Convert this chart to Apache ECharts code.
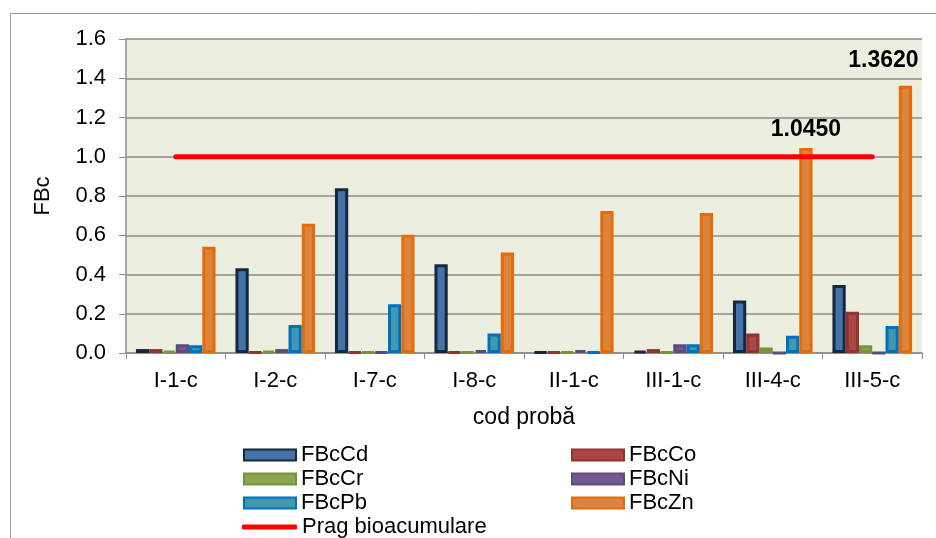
<!DOCTYPE html>
<html>
<head>
<meta charset="utf-8">
<script src="https://cdn.jsdelivr.net/npm/echarts@6/dist/echarts.min.js"></script>
<style>
  html, body { margin: 0; padding: 0; background: #fff; }
  #chart { width: 936px; height: 538px; }
</style>
</head>
<body>
<div id="chart"></div>
<script>
// categorii (cod proba)
const categories = ['I-1-c', 'I-2-c', 'I-7-c', 'I-8-c', 'II-1-c', 'III-1-c', 'III-4-c', 'III-5-c']
// valori FBc
const fbcCd = [0.020, 0.432, 0.840, 0.452, 0.005, 0.010, 0.267, 0.347]
const fbcCo = [0.020, 0.005, 0.005, 0.005, 0.005, 0.020, 0.100, 0.210]
const fbcCr = [0.010, 0.010, 0.005, 0.005, 0.005, 0.005, 0.028, 0.040]
const fbcNi = [0.044, 0.020, 0.005, 0.015, 0.015, 0.045, 0.000, 0.000]
const fbcPb = [0.040, 0.143, 0.248, 0.100, 0.005, 0.045, 0.088, 0.138]
const fbcZn = [0.542, 0.658, 0.602, 0.512, 0.724, 0.713, 1.045, 1.362]
const prag = [1, 1, 1, 1, 1, 1, 1, 1]
const yTicks = { min: 0, max: 1.6, interval: 0.2 }

const font = 'Liberation Sans, Arial, sans-serif'
const chart = echarts.init(document.getElementById('chart'))

const bar = (name, data, fill, border) => ({
  name, type: 'bar', data,
  barGap: '0%', barCategoryGap: '20%',
  itemStyle: { color: fill, borderColor: border, borderWidth: 3 }
})

// Zn cu etichete doar la III-4-c si III-5-c
const znData = fbcZn.map((v, i) => {
  if (i === 6) return { value: v, label: { show: true, distance: 7 } }
  if (i === 7) return { value: v, label: { show: true, distance: 7, offset: [-22, -7] } }
  return v
})

const legendText = { fontFamily: font, fontSize: 22, color: '#000', lineHeight: 24 }
const legendBase = {
  orient: 'vertical', itemGap: 0, itemWidth: 52, itemHeight: 11,
  icon: 'rect', textStyle: legendText
}

const option = {
  animation: false,
  backgroundColor: '#fff',
  textStyle: { fontFamily: font },
  graphic: [{
    type: 'rect', shape: { x: 10.5, y: 13.5, width: 1000, height: 600 },
    style: { fill: 'none', stroke: '#9a9a9a', lineWidth: 1 }, silent: true
  }],
  grid: {
    left: 126, right: 14, top: 39, bottom: 185,
    show: true, backgroundColor: '#ECEFE0', borderWidth: 0
  },
  legend: [
    Object.assign({}, legendBase, { left: 238, top: 438, data: ['FBcCd', 'FBcCr', 'FBcPb'] }),
    Object.assign({}, legendBase, { left: 566, top: 438, data: ['FBcCo', 'FBcNi', 'FBcZn'] }),
    Object.assign({}, legendBase, {
      left: 237, top: 510, itemWidth: 55, itemHeight: 5, icon: 'roundRect',
      data: ['Prag bioacumulare']
    })
  ],
  xAxis: {
    type: 'category', data: categories,
    name: 'cod probă', nameLocation: 'middle', nameGap: 53,
    nameTextStyle: { fontFamily: font, fontSize: 23, color: '#000' },
    axisLine: { lineStyle: { color: '#8c8c8c', width: 1.5 } },
    axisTick: { show: true, length: 6, lineStyle: { color: '#8c8c8c' } },
    axisLabel: { fontFamily: font, fontSize: 22, color: '#000', margin: 17 }
  },
  yAxis: {
    type: 'value', min: yTicks.min, max: yTicks.max, interval: yTicks.interval,
    name: 'FBc', nameLocation: 'middle', nameGap: 72, nameRotate: 90,
    nameTextStyle: { fontFamily: font, fontSize: 22, color: '#000' },
    axisLine: { show: true, lineStyle: { color: '#8c8c8c', width: 1.5 } },
    axisTick: { show: true, length: 7, lineStyle: { color: '#8c8c8c' } },
    axisLabel: { fontFamily: font, fontSize: 22, color: '#000', margin: 20, formatter: v => v.toFixed(1) },
    splitLine: { lineStyle: { color: '#8c8c8c', width: 1.5 } }
  },
  series: [
    bar('FBcCd', fbcCd, '#4572A7', '#14283f'),
    bar('FBcCo', fbcCo, '#AA4643', '#8e3531'),
    bar('FBcCr', fbcCr, '#89A54E', '#77933C'),
    bar('FBcNi', fbcNi, '#71588F', '#5f4a7c'),
    bar('FBcPb', fbcPb, '#4198AF', '#0070C0'),
    Object.assign(bar('FBcZn', znData, '#DB843D', '#E46C0A'), {
      label: {
        position: 'top', fontFamily: font, fontSize: 23, fontWeight: 'bold', color: '#000',
        formatter: p => p.value.toFixed(4)
      }
    }),
    {
      name: 'Prag bioacumulare', type: 'line', data: prag,
      symbol: 'none', z: 5,
      lineStyle: { color: '#FF0000', width: 5, cap: 'round' },
      itemStyle: { color: '#FF0000' }
    }
  ]
}

chart.setOption(option)
</script>
</body>
</html>
